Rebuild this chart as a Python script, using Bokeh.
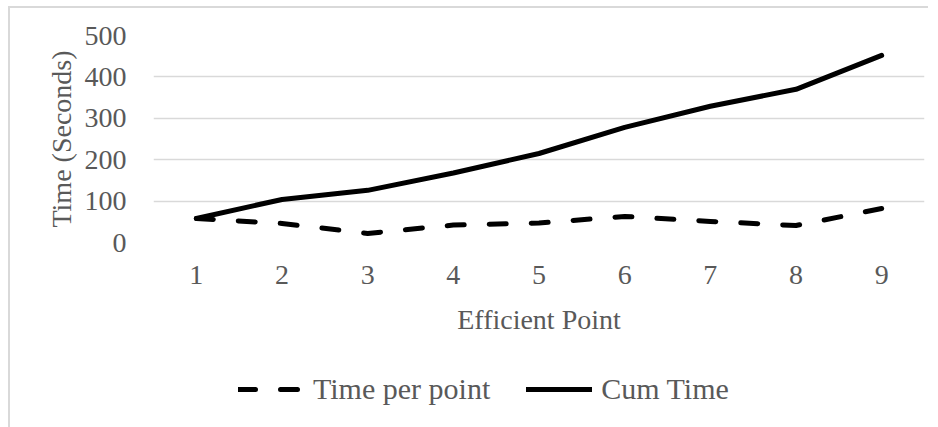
from bokeh.plotting import figure
from bokeh.models import FactorRange, Range1d, FixedTicker, Legend, LegendItem
from bokeh.layouts import column
from bokeh.embed import file_html
from bokeh.resources import INLINE

# ---- data ----
points = ["1", "2", "3", "4", "5", "6", "7", "8", "9"]
time_per_point = [58, 46, 22, 42, 47, 63, 51, 41, 82]
cum_time = [58, 104, 126, 168, 215, 278, 329, 370, 452]
y_ticks = [0, 100, 200, 300, 400, 500]
series_names = ["Time per point", "Cum Time"]

FONT = "Liberation Serif"
TXT = "#595959"
GRID = "#d9d9d9"
BORDER = "2px solid #d9d9d9"

# page offsets of the chart border (top/left edges visible in reference)
OFF_L, OFF_T = 8, 6
TOP = 35 - OFF_T - 2
BOTTOM = 100

p = figure(frame_width=769, frame_height=205,
           x_range=FactorRange(factors=points),
           y_range=Range1d(0, 500), output_backend="svg", toolbar_location=None,
           min_border_left=153 - OFF_L - 2, min_border_right=6,
           min_border_top=TOP, min_border_bottom=BOTTOM)
p.margin = (OFF_T, 0, 0, OFF_L)
p.styles = {"border-top": BORDER, "border-left": BORDER}
p.outline_line_color = None
p.background_fill_color = "white"
p.border_fill_color = "white"

# axes
p.xaxis.axis_line_color = None
p.yaxis.axis_line_color = None
p.xaxis.major_tick_line_color = None
p.yaxis.major_tick_line_color = None
p.xaxis.minor_tick_line_color = None
p.yaxis.minor_tick_line_color = None
p.yaxis.ticker = FixedTicker(ticks=y_ticks)
for ax in (p.xaxis[0], p.yaxis[0]):
    ax.major_label_text_font = FONT
    ax.major_label_text_font_size = "28px"
    ax.major_label_text_color = TXT
    ax.axis_label_text_font = FONT
    ax.axis_label_text_font_size = "28px"
    ax.axis_label_text_color = TXT
    ax.axis_label_text_font_style = "normal"
p.xaxis.axis_label = "Efficient Point"
p.yaxis.axis_label = "Time (Seconds)"
p.xaxis.major_label_standoff = 17
p.yaxis.major_label_standoff = 21
p.xaxis.axis_label_standoff = 17
p.yaxis.axis_label_standoff = 5

# grid
p.xgrid.grid_line_color = None
p.ygrid.grid_line_color = GRID
p.ygrid.grid_line_width = 1.5

# lines
dash_style = dict(line_color="black", line_width=5, line_dash="17 25",
                  line_cap="round", line_join="round")
solid_style = dict(line_color="black", line_width=5,
                   line_cap="round", line_join="round")
p.line(points, time_per_point, **dash_style)
p.line(points, cum_time, **solid_style)

# ---- legend strip below the chart (legend inside its own frame) ----
top_h = OFF_T + 2 + TOP + 205 + BOTTOM
q = figure(width=938 - OFF_L - 2, height=427 - top_h,
           x_range=Range1d(0, 1), y_range=Range1d(0, 1),
           x_axis_type=None, y_axis_type=None,
           output_backend="svg", toolbar_location=None,
           min_border=0, min_border_left=0, min_border_right=0,
           min_border_top=0, min_border_bottom=0)
q.margin = (0, 0, 0, OFF_L)
q.styles = {"border-left": BORDER}
q.outline_line_color = None
q.xgrid.grid_line_color = None
q.ygrid.grid_line_color = None
q.background_fill_color = "white"
q.border_fill_color = "white"
# legend-only proxy renderers (NaN data: nothing is drawn in the strip)
nan = float("nan")
l1 = q.line([nan, nan], [nan, nan], **dash_style)
l2 = q.line([nan, nan], [nan, nan], **solid_style)

legend = Legend(items=[LegendItem(label=series_names[0], renderers=[l1]),
                       LegendItem(label=series_names[1], renderers=[l2])],
                orientation="horizontal", location=(85, 21),
                glyph_width=66, glyph_height=30, label_standoff=9, spacing=36,
                padding=0, margin=0, border_line_color=None,
                background_fill_alpha=0,
                label_text_font=FONT, label_text_font_size="30px",
                label_text_color=TXT)
q.add_layout(legend, "center")

layout = column(p, q, spacing=0)
open("out.html", "w").write(file_html(layout, INLINE))
